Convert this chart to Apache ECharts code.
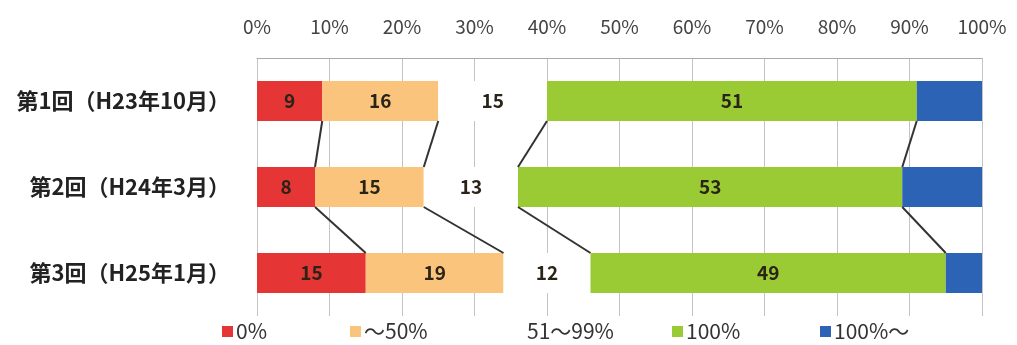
<!DOCTYPE html>
<html><head><meta charset="utf-8">
<script src="https://cdn.jsdelivr.net/npm/echarts@6/dist/echarts.min.js"></script>
<style>html,body{margin:0;padding:0;background:#fff}#c{width:1017px;height:345px}</style>
</head><body><div id="c"></div>
<script>
const categories = ['第1回（H23年10月）', '第2回（H24年3月）', '第3回（H25年1月）'];
const seriesNames = ['0%', '～50%', '51～99%', '100%', '100%～'];
const s0 = [9, 8, 15];
const s50 = [16, 15, 19];
const s99 = [15, 13, 12];
const s100 = [51, 53, 49];
const sOver = [9, 11, 5];
const xTicks = [0, 10, 20, 30, 40, 50, 60, 70, 80, 90, 100];

const values = [s0, s50, s99, s100, sOver];
const colors = ['#e53535', '#fac47c', '#ffffff', '#9acb34', '#2c63b4'];
const showLabel = [true, true, true, true, false];
const BAR_W = 40;
const FONT = '"Noto Sans CJK JP", "Noto Sans", sans-serif';

// connector data: boundaries between consecutive rows
const connData = [];
for (let i = 0; i < categories.length - 1; i++) {
  let ca = 0, cb = 0;
  for (let k = 0; k < 4; k++) {
    ca += values[k][i]; cb += values[k][i + 1];
    connData.push([ca, i, cb]);
  }
}

const chart = echarts.init(document.getElementById('c'));
const series = seriesNames.map((n, k) => ({
  name: n, type: 'bar', stack: 'total', barWidth: BAR_W,
  data: values[k],
  itemStyle: { color: colors[k] },
  label: { show: showLabel[k], position: 'inside', color: '#2a2418', fontSize: 19, fontWeight: 'bold', fontFamily: FONT },
  z: 2
}));
series.push({
  type: 'custom', data: connData, z: 5, silent: true,
  encode: { x: 0, y: 1 },
  renderItem: function (params, api) {
    const p1 = api.coord([api.value(0), api.value(1)]);
    const p2 = api.coord([api.value(2), api.value(1) + 1]);
    return { type: 'line', shape: { x1: p1[0], y1: p1[1] + BAR_W / 2, x2: p2[0], y2: p2[1] - BAR_W / 2 },
      style: { stroke: '#333', lineWidth: 2 } };
  }
});

const legendPos = [222, 350, 513, 672, 820];
chart.setOption({
  animation: false,
  textStyle: { fontFamily: FONT },
  grid: { left: 257, right: 35, top: 58, bottom: 29 },
  xAxis: {
    type: 'value', position: 'top', min: xTicks[0], max: xTicks[xTicks.length - 1], interval: 10,
    axisLabel: { formatter: '{value}%', color: '#444', fontSize: 19, margin: 22, fontFamily: FONT },
    axisLine: { show: true, lineStyle: { color: '#aaa' } },
    axisTick: { show: false },
    splitLine: { show: true, lineStyle: { color: '#c4c4c4', width: 1 } }
  },
  yAxis: {
    type: 'category', data: categories, inverse: true,
    axisLine: { show: false }, axisTick: { show: false },
    axisLabel: { color: '#222', fontSize: 22, fontWeight: 'bold', margin: 27, fontFamily: FONT }
  },
  legend: seriesNames.map((n, k) => ({
    data: [n], left: legendPos[k], top: 321, padding: 0, itemWidth: 11, itemHeight: 11, itemGap: 0,
    icon: 'rect', textStyle: { color: '#333', fontSize: 21, fontFamily: FONT, padding: [0, 0, 0, -2] },
    selectedMode: false
  })),
  series: series
});
</script></body></html>
